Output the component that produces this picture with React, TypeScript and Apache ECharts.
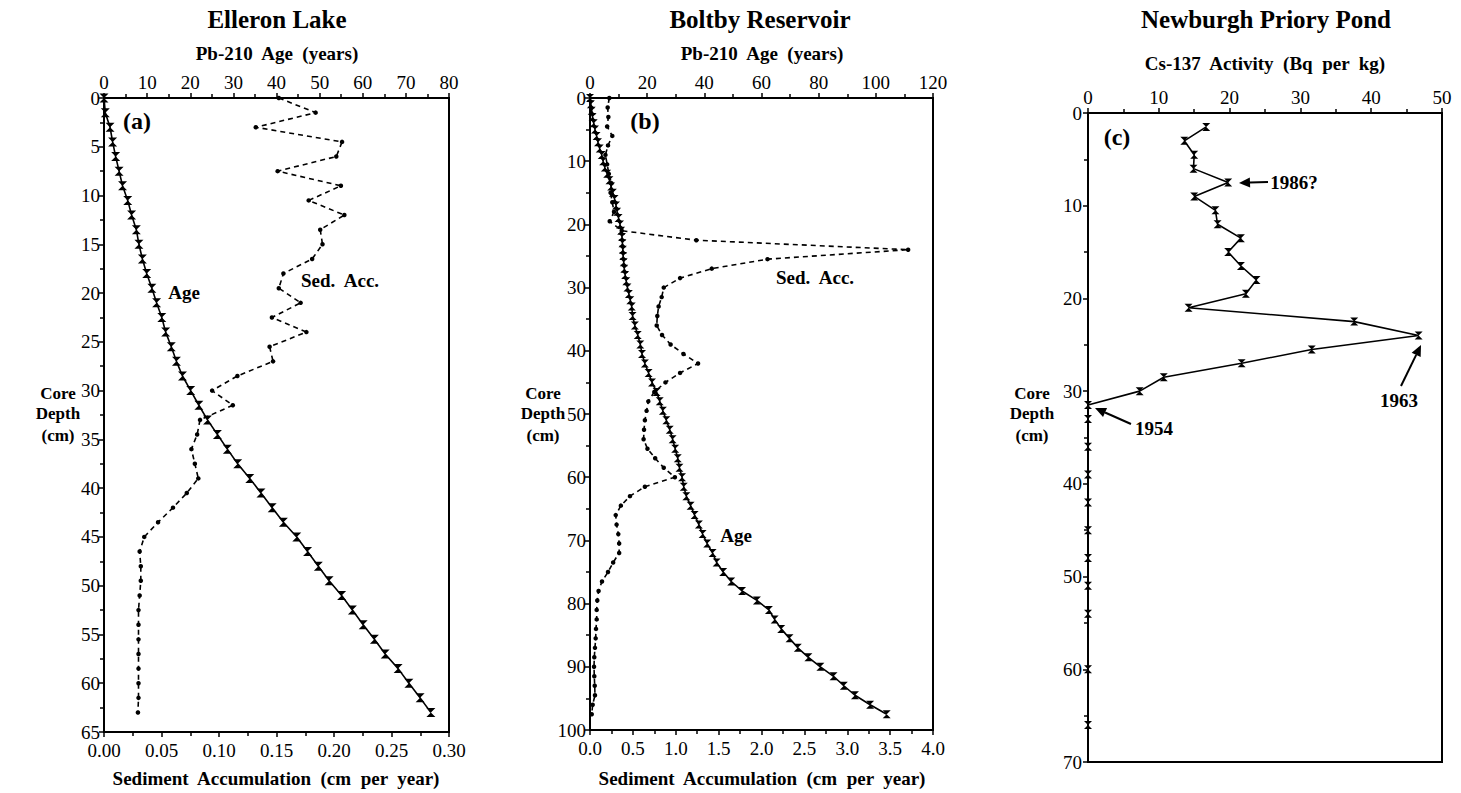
import React, { useEffect, useRef } from "react";
import * as echarts from "echarts";

// ---------- DATA ----------
// (a) Elleron Lake
const aDepth = [0, 1.5, 3, 4.5, 6, 7.5, 9, 10.5, 12, 13.5, 15, 16.5, 18, 19.5, 21, 22.5, 24, 25.5, 27, 28.5, 30, 31.5, 33, 34.5, 36, 37.5, 39, 40.5, 42, 43.5, 45, 46.5, 48, 49.5, 51, 52.5, 54, 55.5, 57, 58.5, 60, 61.5, 63];
const aAge = [0, 0.3, 1.4, 2.0, 2.7, 3.5, 4.3, 5.5, 6.4, 7.5, 8.1, 8.9, 9.9, 11.1, 12.2, 13.4, 14.3, 15.6, 16.8, 18.2, 20.1, 22.0, 24.0, 26.3, 28.6, 31.0, 33.8, 36.4, 39.0, 41.6, 44.7, 47.2, 49.7, 52.2, 55.1, 57.6, 60.1, 62.7, 65.2, 68.2, 70.7, 73.3, 75.8];
const aSed = [0.152, 0.184, 0.132, 0.207, 0.202, 0.151, 0.206, 0.178, 0.209, 0.188, 0.19, 0.181, 0.156, 0.152, 0.171, 0.146, 0.176, 0.144, 0.147, 0.116, 0.094, 0.112, 0.0835, 0.081, 0.076, 0.079, 0.082, 0.072, 0.06, 0.047, 0.035, 0.031, 0.032, 0.032, 0.031, 0.03, 0.03, 0.03, 0.03, 0.03, 0.03, 0.03, 0.0295];

// (b) Boltby Reservoir
const bAgeDepth = [0, 1, 2, 3, 4, 5, 6, 7, 8, 9, 10, 11, 12, 13, 14, 15, 16, 17, 18, 19, 20, 21, 22, 23, 24, 25, 26, 27, 28, 29, 30, 31, 32, 33, 34.5, 36, 37.5, 39, 40.5, 42, 43.5, 45, 46.5, 48, 49.5, 51, 52.5, 54, 55.5, 57, 58.5, 60, 61.5, 63, 64.5, 66, 67.5, 69, 70.5, 72, 73.5, 75, 76.5, 78, 79.5, 81, 82.5, 84, 85.5, 87, 88.5, 90, 91.5, 93, 94.5, 96, 97.5];
const bAge = [0, 0.3, 0.6, 0.9, 1.3, 1.75, 2.3, 2.8, 3.4, 4.1, 4.6, 5.2, 6.0, 6.8, 7.4, 8.0, 8.6, 9.1, 9.5, 10.0, 10.5, 10.9, 11.2, 11.35, 11.5, 11.6, 11.8, 12.0, 12.3, 12.7, 13.1, 13.6, 14.1, 14.6, 14.9, 15.7, 16.7, 17.6, 18.2, 19.2, 20.5, 21.7, 23.3, 24.4, 25.5, 26.7, 27.9, 28.9, 29.8, 30.7, 31.3, 32.2, 32.8, 33.7, 35.2, 36.6, 38.1, 39.4, 41.0, 42.9, 44.3, 46.6, 49.4, 53.2, 58.4, 62.6, 64.6, 66.9, 69.8, 72.7, 76.4, 80.6, 85.2, 88.8, 92.7, 98.0, 103.8];
const bSedDepth = [0, 1.5, 3, 4.5, 6, 7.5, 9, 10.5, 12, 13.5, 15, 16.5, 18, 19.5, 21, 22.5, 24, 25.5, 27, 28.5, 30, 31.5, 33, 34.5, 36, 37.5, 39, 40.5, 42, 43.5, 45, 46.5, 48, 49.5, 51, 52.5, 54, 55.5, 57, 58.5, 60, 61.5, 63, 64.5, 66, 67.5, 69, 70.5, 72, 73.5, 75, 76.5, 78, 79.5, 81, 82.5, 84, 85.5, 87, 88.5, 90, 91.5, 93, 94.5, 96, 97.5];
const bSed = [0.225, 0.206, 0.214, 0.2, 0.26, 0.21, 0.18, 0.2, 0.22, 0.25, 0.24, 0.26, 0.28, 0.23, 0.37, 1.24, 3.71, 2.07, 1.42, 1.05, 0.86, 0.836, 0.8, 0.785, 0.778, 0.84, 0.94, 1.09, 1.26, 1.05, 0.88, 0.75, 0.68, 0.66, 0.64, 0.63, 0.625, 0.67, 0.76, 0.86, 0.99, 0.64, 0.466, 0.36, 0.3, 0.31, 0.33, 0.34, 0.34, 0.27, 0.21, 0.14, 0.1, 0.085, 0.078, 0.078, 0.07, 0.066, 0.058, 0.05, 0.047, 0.05, 0.055, 0.058, 0.031, 0.02];

// (c) Newburgh Priory Pond
const cDepth = [1.5, 3, 4.5, 6, 7.5, 9, 10.5, 12, 13.5, 15, 16.5, 18, 19.5, 21, 22.5, 24, 25.5, 27, 28.5, 30, 31.5, 33, 36, 39, 42, 45, 48, 51, 54, 60, 66];
const cCs = [16.7, 13.6, 15.0, 14.9, 19.8, 15.0, 18.0, 18.3, 21.6, 19.8, 21.6, 23.8, 22.3, 14.2, 37.6, 46.7, 31.6, 21.7, 10.7, 7.3, 0, 0, 0, 0, 0, 0, 0, 0, 0, 0, 0];

const titles = ["Elleron Lake", "Boltby Reservoir", "Newburgh Priory Pond"];

// ---------- STYLE ----------
const FONT = "'Liberation Serif', 'Times New Roman', serif";
const HOURGLASS = "path://M0,0L10,0L0,10L10,10Z";

const zip = (xs: number[], ys: number[]) => xs.map((x, i) => [x, ys[i]]);

function axisBase(extra: any) {
  return {
    type: "value",
    splitLine: { show: false },
    axisLine: { show: true, onZero: false, lineStyle: { color: "#000", width: 2 } },
    axisTick: { show: true, length: 5, lineStyle: { color: "#000", width: 1.5 } },
    minorTick: { show: true, splitNumber: 2, length: 4, lineStyle: { color: "#000", width: 1.5 } },
    axisLabel: { color: "#000", fontFamily: FONT, fontSize: 19, margin: 6 },
    ...extra,
  };
}

function txt(x: number, y: number, text: string, size: number, bold = true, align = "center") {
  return {
    type: "text",
    x,
    y,
    silent: true,
    style: {
      text,
      fill: "#000",
      font: `${bold ? "bold " : ""}${size}px ${FONT}`,
      align,
      verticalAlign: "middle",
    },
  };
}

function arrow(x1: number, y1: number, x2: number, y2: number) {
  const dx = x2 - x1;
  const dy = y2 - y1;
  const len = Math.sqrt(dx * dx + dy * dy);
  const ux = dx / len;
  const uy = dy / len;
  const L = 11;
  const W = 5;
  const bx = x2 - ux * L;
  const by = y2 - uy * L;
  return [
    { type: "line", silent: true, shape: { x1, y1, x2: bx, y2: by }, style: { stroke: "#000", lineWidth: 2 } },
    {
      type: "polygon",
      silent: true,
      shape: { points: [[x2, y2], [bx - uy * W, by + ux * W], [bx + uy * W, by - ux * W]] },
      style: { fill: "#000" },
    },
  ];
}

function coreDepth(cx: number) {
  return [txt(cx, 393, "Core", 17), txt(cx, 413, "Depth", 17), txt(cx, 435, "(cm)", 17)];
}

export default function App() {
  const ref = useRef<HTMLDivElement>(null);
  useEffect(() => {
    if (!ref.current) return;
    const chart = echarts.init(ref.current, undefined, { renderer: "svg" });

    const ageLine = (data: number[][], xi: number, yi: number, size: number) => ({
      type: "line",
      xAxisIndex: xi,
      yAxisIndex: yi,
      data,
      symbol: HOURGLASS,
      symbolSize: size,
      showSymbol: true,
      lineStyle: { color: "#000", width: 1.6 },
      itemStyle: { color: "#000", borderWidth: 0 },
      silent: true,
    });
    const sedLine = (data: number[][], xi: number, yi: number) => ({
      type: "line",
      xAxisIndex: xi,
      yAxisIndex: yi,
      data,
      symbol: "circle",
      symbolSize: 4.5,
      showSymbol: true,
      lineStyle: { color: "#000", width: 1.6, type: [5, 4] },
      itemStyle: { color: "#000", borderWidth: 0 },
      silent: true,
    });

    const option: any = {
      animation: false,
      backgroundColor: "#fff",
      grid: [
        { left: 104, top: 98, width: 345, height: 634, show: true, borderColor: "#000", borderWidth: 2, backgroundColor: "transparent" },
        { left: 590, top: 98, width: 343, height: 632, show: true, borderColor: "#000", borderWidth: 2, backgroundColor: "transparent" },
        { left: 1088, top: 113, width: 354, height: 649, show: true, borderColor: "#000", borderWidth: 2, backgroundColor: "transparent" },
      ],
      xAxis: [
        axisBase({ gridIndex: 0, position: "top", min: 0, max: 80, interval: 10 }),
        axisBase({
          gridIndex: 0, position: "bottom", min: 0, max: 0.3, interval: 0.05,
          axisLabel: { color: "#000", fontFamily: FONT, fontSize: 19, margin: 9, formatter: (v: number) => v.toFixed(2) },
        }),
        axisBase({ gridIndex: 1, position: "top", min: 0, max: 120, interval: 20 }),
        axisBase({
          gridIndex: 1, position: "bottom", min: 0, max: 4, interval: 0.5,
          axisLabel: { color: "#000", fontFamily: FONT, fontSize: 19, margin: 9, formatter: (v: number) => v.toFixed(1) },
        }),
        axisBase({ gridIndex: 2, position: "top", min: 0, max: 50, interval: 10 }),
        {
          type: "value", gridIndex: 2, position: "bottom", min: 0, max: 50,
          axisLine: { show: false }, axisTick: { show: false }, axisLabel: { show: false }, splitLine: { show: false },
        },
      ],
      yAxis: [
        axisBase({ gridIndex: 0, inverse: true, min: 0, max: 65, interval: 5, axisLabel: { color: "#000", fontFamily: FONT, fontSize: 19, margin: 4 } }),
        axisBase({ gridIndex: 1, inverse: true, min: 0, max: 100, interval: 10, axisLabel: { color: "#000", fontFamily: FONT, fontSize: 19, margin: 4 } }),
        axisBase({ gridIndex: 2, inverse: true, min: 0, max: 70, interval: 10, axisLabel: { color: "#000", fontFamily: FONT, fontSize: 19, margin: 6 } }),
      ],
      series: [
        sedLine(zip(aSed, aDepth), 1, 0),
        ageLine(zip(aAge, aDepth), 0, 0, 9),
        sedLine(zip(bSed, bSedDepth), 3, 1),
        ageLine(zip(bAge, bAgeDepth), 2, 1, 8),
        ageLine(zip(cCs, cDepth), 4, 2, 8),
      ],
      graphic: [
        txt(277, 19, titles[0], 25),
        txt(760, 19, titles[1], 25),
        txt(1266, 19, titles[2], 25),
        txt(277, 53, "Pb-210  Age  (years)", 19),
        txt(762, 53, "Pb-210  Age  (years)", 19),
        txt(1265, 63, "Cs-137  Activity  (Bq  per  kg)", 19),
        txt(276, 778, "Sediment  Accumulation  (cm  per  year)", 19),
        txt(762, 778, "Sediment  Accumulation  (cm  per  year)", 19),
        ...coreDepth(58),
        ...coreDepth(543),
        ...coreDepth(1032),
        txt(137, 121, "(a)", 24),
        txt(645, 121, "(b)", 24),
        txt(1117, 137, "(c)", 24),
        txt(184, 292, "Age", 19),
        txt(340, 280, "Sed.  Acc.", 19),
        txt(815, 277, "Sed.  Acc.", 19),
        txt(736, 535, "Age", 19),
        txt(1294, 182, "1986?", 19),
        txt(1399, 400, "1963", 19),
        txt(1154, 428, "1954", 19),
        ...arrow(1268, 182, 1239, 183),
        ...arrow(1401, 386, 1421, 345),
        ...arrow(1131, 424, 1095, 408),
      ],
    };
    chart.setOption(option);
    return () => chart.dispose();
  }, []);
  return (
    <div
      ref={ref}
      style={{ position: "fixed", left: 0, top: 0, width: 1461, height: 793, background: "#fff" }}
    />
  );
}
